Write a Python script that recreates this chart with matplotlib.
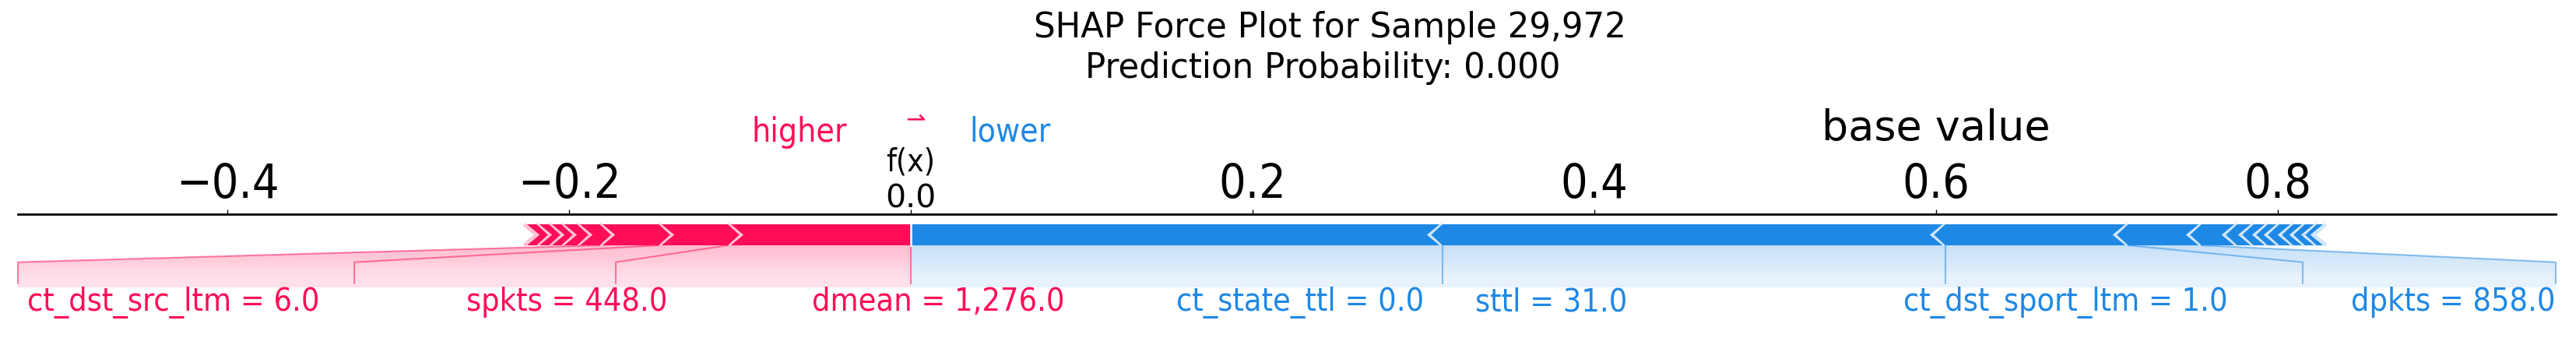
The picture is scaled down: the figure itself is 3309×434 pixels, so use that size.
import os
import matplotlib
matplotlib.use("Agg")
import matplotlib.pyplot as plt
import matplotlib.colors as mcolors
import matplotlib.transforms as mtransforms
from matplotlib import lines, font_manager
from matplotlib.font_manager import FontProperties
from matplotlib.patches import Polygon
from matplotlib.ticker import MultipleLocator
import numpy as np

# ------------------------------------------------------------------ data
sample_id = "29,972"
pred_prob = 0.000
out_value = 0.0          # f(x)
base_value = 0.60        # base value

# features pushing higher (red), ordered from f(x) outward
pos_shap = [0.1071, 0.0405, 0.0346, 0.0132, 0.0092, 0.0072, 0.0073, 0.0073]
pos_names = ["dmean", "spkts", "ct_dst_src_ltm"]
pos_values = ["1,276.0", "448.0", "6.0"]

# features pushing lower (blue), ordered from f(x) outward
neg_shap = [0.3112, 0.2943, 0.1070, 0.0429, 0.0209, 0.0096, 0.0082,
            0.0068, 0.0082, 0.0068, 0.0069, 0.0054]
neg_names = ["ct_state_ttl", "sttl", "ct_dst_sport_ltm", "dpkts"]
neg_values = ["0.0", "31.0", "1.0", "858.0"]

# ------------------------------------------------------------------ layout / style
W, H = 3309, 434
RED, RED_L = "#FF0D57", "#FFC3D5"
BLUE, BLUE_L = "#1E88E5", "#D1E6FA"
# label extents in figure pixels (left, right)
pos_label_px = [(1032, 1379), (599, 857), (38, 407)]
neg_label_px = [(1511, 1829), (1884, 2102), (2461, 2846), (3030, 3272)]
# elbow x of the connector lines (None = straight down)
pos_elbow_x = [-0.1727, -0.3257, -0.5226]
neg_elbow_x = [None, None, 0.8146, 0.9627]
x_right = 0.9627
label_y = -0.311
width_bar = 0.1

cond_path = None
for f in font_manager.fontManager.ttflist:
    if os.path.basename(f.fname) == "DejaVuSansCondensed.ttf":
        cond_path = f.fname
        break
FP_C = FontProperties(fname=cond_path) if cond_path else FontProperties(family="DejaVu Sans")
FP_R = FontProperties(family="DejaVu Sans")

fig = plt.figure(figsize=(W / 100, H / 100), dpi=100)
ax = fig.add_axes([23 / W, 0.0, 3260 / W, 1 - 274.5 / H])
x_left = min(pos_elbow_x)
ax.set_xlim(x_left, x_right)
ax.set_ylim(-0.44, 0.15)
width_sep = (x_right - x_left) / 200
renderer = fig.canvas.get_renderer()
mix = mtransforms.blended_transform_factory(fig.transFigure, ax.transData)


def fit_size(txt, target_w, fp, base=30.0):
    t = fig.text(0, 0, txt, fontproperties=fp, fontsize=base)
    w = t.get_window_extent(renderer).width
    t.remove()
    return base * target_w / w


pos_bounds = out_value - np.cumsum(pos_shap)
neg_bounds = out_value + np.cumsum(neg_shap)


def draw_bars(bounds, kind):
    pre = out_value
    color, light = (RED, RED_L) if kind == "pos" else (BLUE, BLUE_L)
    indent = abs(width_sep) if kind == "pos" else -abs(width_sep)
    for i, b in enumerate(bounds):
        if kind == "pos":
            lb, rb = b, pre
            sep = lb
        else:
            lb, rb = pre, b
            sep = rb
        pre = b
        if i == 0:
            if kind == "pos":
                pts = [[lb, 0], [rb, 0], [rb, width_bar], [lb, width_bar],
                       [lb + indent, width_bar / 2]]
            else:
                pts = [[rb, 0], [lb, 0], [lb, width_bar], [rb, width_bar],
                       [rb + indent, width_bar / 2]]
        else:
            pts = [[lb, 0], [rb, 0], [rb + indent * 0.9, width_bar / 2],
                   [rb, width_bar], [lb, width_bar], [lb + indent * 0.9, width_bar / 2]]
        ax.add_patch(Polygon(pts, closed=True, fill=True, facecolor=color, linewidth=0))
        ax.add_patch(Polygon([[sep, 0], [sep + indent, width_bar / 2], [sep, width_bar]],
                             closed=False, fill=False, edgecolor=light, lw=3.5))


draw_bars(neg_bounds, "neg")
draw_bars(pos_bounds, "pos")

# common label font size fitted to the reference label widths
all_txt = [f"{n} = {v}" for n, v in zip(pos_names + neg_names, pos_values + neg_values)]
all_px = pos_label_px + neg_label_px
label_size = float(np.median([fit_size(t, r - l, FP_C) for t, (l, r) in zip(all_txt, all_px)]))


def draw_labels(bounds, names, values, label_px, elbow_x, kind):
    color, light = (RED, RED_L) if kind == "pos" else (BLUE, BLUE_L)
    if kind == "pos":
        ln = lines.Line2D([out_value, out_value], [0, -0.18], lw=1.5, alpha=0.5, color=color)
        ln.set_clip_on(False)
        ax.add_line(ln)
    box_end = out_value
    pre = out_value
    for i, (nm, vl) in enumerate(zip(names, values)):
        val = bounds[i]
        cx = (label_px[i][0] + label_px[i][1]) / 2 / W
        ax.text(cx, label_y, f"{nm} = {vl}", fontproperties=FP_C, fontsize=label_size,
                color=color, ha="center", va="baseline", clip_on=False, transform=mix)
        if elbow_x[i] is None:
            xs, ys = [val, val], [0, -0.18]
            box_end = val
        else:
            xs, ys = [val, elbow_x[i], elbow_x[i]], [0, -0.08, -0.18]
            box_end = elbow_x[i]
        ln = lines.Line2D(xs, ys, lw=1.5, alpha=0.5, color=color)
        ln.set_clip_on(False)
        ax.add_line(ln)
        pre = val
    path = Polygon([[out_value, 0], [pre, 0], [box_end, -0.08], [box_end, -0.2],
                    [out_value, -0.2], [out_value, 0]], closed=True, fill=True,
                   facecolor=light, alpha=0.5, linewidth=0)
    ax.add_patch(path)
    rgb = np.array([mcolors.to_rgb(color), (1, 1, 1)])
    cm = mcolors.LinearSegmentedColormap.from_list("cm", rgb)
    _, Z2 = np.meshgrid(np.linspace(0, 10), np.linspace(-10, 10))
    im = ax.imshow(Z2, interpolation="quadric", cmap=cm, vmax=0.01, alpha=0.3,
                   origin="lower", extent=[out_value, box_end, 0, -0.31],
                   aspect="auto")
    im.set_clip_path(path)


draw_labels(neg_bounds, neg_names, neg_values, neg_label_px, neg_elbow_x, "neg")
draw_labels(pos_bounds, pos_names, pos_values, pos_label_px, pos_elbow_x, "pos")

# higher / lower legend
hl_size = (fit_size("higher", 1088 - 967, FP_C) + fit_size("lower", 1350 - 1245, FP_C)) / 2
ax.text(1088 / W, 0.4926, "higher", fontproperties=FP_C, fontsize=hl_size, color=RED,
        ha="right", va="baseline", clip_on=False, transform=mix)
ax.text(1245 / W, 0.4926, "lower", fontproperties=FP_C, fontsize=hl_size, color=BLUE,
        ha="left", va="baseline", clip_on=False, transform=mix)
ax.text(out_value + 0.002, 0.60, r"$\rightharpoonup$", fontsize=22, color=RED,
        ha="center", va="center", clip_on=False)

# base value
ax.text(base_value, 0.50, "base value", fontproperties=FP_R,
        fontsize=fit_size("base value", 2636 - 2343, FP_R), ha="center", va="baseline",
        clip_on=False)

# output value
ln = lines.Line2D([out_value, out_value], [0, 0.1], lw=2, color="#F2F2F2", zorder=3)
ln.set_clip_on(False)
ax.add_line(ln)
ax.text(out_value, 0.178, f"{out_value:.1f}", fontproperties=FP_R,
        fontsize=fit_size("0.0", 65, FP_R), ha="center", va="baseline", clip_on=False,
        zorder=4)
ax.text(out_value, 0.352, "f(x)", fontproperties=FP_C, fontsize=fit_size("f(x)", 63, FP_C),
        ha="center", va="baseline", clip_on=False, zorder=4)

# axis styling
for k, sp in ax.spines.items():
    sp.set_visible(k == "top")
ax.spines["top"].set_linewidth(2.0)
loc = MultipleLocator(0.2)
ticks = [t for t in loc.tick_values(x_left, x_right) if x_left <= t <= x_right]
tick_labels = ["" if abs(t) < 1e-9 else f"{t:.1f}".replace("-", "\u2212") for t in ticks]
ax.set_xticks(ticks, tick_labels, fontproperties=FP_C)
tick_size = fit_size("0.6", 87, FP_C)
ax.tick_params(top=True, bottom=False, left=False, right=False, labelleft=False,
               labeltop=True, labelbottom=False, labelsize=tick_size, length=4.5,
               width=1.0, pad=1)
ax.set_yticks([])
ax.set_xlim(x_left, x_right)
ax.set_ylim(-0.44, 0.15)

# title
t1 = f"SHAP Force Plot for Sample {sample_id}"
t2 = f"Prediction Probability: {pred_prob:.3f}"
title_size = (fit_size(t1, 2087 - 1329, FP_R) + fit_size(t2, 2004 - 1394, FP_R)) / 2
fig.text(1708 / W, 1 - 48 / H, t1, fontproperties=FP_R, fontsize=title_size,
         ha="center", va="baseline")
fig.text(1699 / W, 1 - 100 / H, t2, fontproperties=FP_R, fontsize=title_size,
         ha="center", va="baseline")

fig.savefig("out.png", dpi=100)
